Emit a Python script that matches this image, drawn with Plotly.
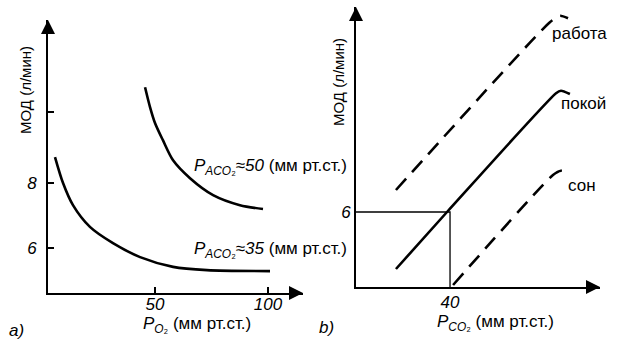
import plotly.graph_objects as go

# ---------------- data ----------------
# panel a: MOD vs P_O2
lo_x = [5.75, 9.3, 13.7, 21.2, 31.4, 43.4, 58, 73, 100.9]
lo_y = [8.8, 8.0, 7.32, 6.65, 6.15, 5.72, 5.42, 5.32, 5.29]
hi_x = [45.6, 47.8, 50, 53.5, 58, 65.5, 75.7, 87.6, 97.8]
hi_y = [10.95, 10.34, 9.85, 9.32, 8.7, 8.15, 7.63, 7.32, 7.2]
a_yticks = [6, 8]
a_yticktext = ["6", "8"]
a_yminor = [10.2]
a_xticks = [50, 100]
a_xticktext = ["50", "100"]

# panel b: MOD vs P_CO2
rest_x = [17, 39.1, 85.1, 87.2, 91]
rest_y = [1.44, 6.08, 15.5, 15.7, 15.44]
work_x = [17, 82.6, 86.8, 90.2]
work_y = [7.76, 21.2, 21.7, 21.5]
sleep_x = [41.3, 83.8, 87.2, 91]
sleep_y = [0.16, 8.96, 9.3, 9.1]
guide_x = [0, 40, 40]
guide_y = [6, 6, 0]
b_xticks = [40]
b_xticktext = ["40"]
b_yticks = [6]
b_yticktext = ["6"]

W, H = 626, 345
FONT = "Liberation Sans"
NUM = "Liberation Sans Narrow, Liberation Sans"

A_X = [2.65, 115.5]
A_Y = [4.615, 13.02]
B_X = [0, 103.8]
B_Y = [0, 22.4]


def px(x):
    return x / W


def py(y):
    return 1 - y / H


fig = go.Figure()

line = dict(color="black", width=2.6)
fig.add_trace(go.Scatter(x=lo_x, y=lo_y, mode="lines", line=dict(**line, shape="spline", smoothing=0.8),
                         xaxis="x", yaxis="y"))
fig.add_trace(go.Scatter(x=hi_x, y=hi_y, mode="lines", line=dict(**line, shape="spline", smoothing=0.8),
                         xaxis="x", yaxis="y"))
fig.add_trace(go.Scatter(x=rest_x, y=rest_y, mode="lines", line=dict(**line, shape="spline", smoothing=0.6),
                         xaxis="x2", yaxis="y2"))
fig.add_trace(go.Scatter(x=work_x, y=work_y, mode="lines",
                         line=dict(**line, shape="spline", smoothing=0.6, dash="15px,9px"),
                         xaxis="x2", yaxis="y2"))
fig.add_trace(go.Scatter(x=sleep_x, y=sleep_y, mode="lines",
                         line=dict(**line, shape="spline", smoothing=0.6, dash="15px,9px"),
                         xaxis="x2", yaxis="y2"))
fig.add_trace(go.Scatter(x=guide_x, y=guide_y, mode="lines", line=dict(color="black", width=1.3),
                         xaxis="x2", yaxis="y2"))

# arrowheads at the axis ends
arrow_m = dict(color="black", size=14, line=dict(width=0))
fig.add_trace(go.Scatter(x=[A_X[0], A_X[1]], y=[A_Y[1], A_Y[0]], mode="markers", cliponaxis=False,
                         marker=dict(**arrow_m, symbol=["arrow-up", "arrow-right"]),
                         xaxis="x", yaxis="y"))
fig.add_trace(go.Scatter(x=[B_X[0], B_X[1]], y=[B_Y[1], B_Y[0]], mode="markers", cliponaxis=False,
                         marker=dict(**arrow_m, symbol=["arrow-up", "arrow-right"]),
                         xaxis="x2", yaxis="y2"))

common = dict(showgrid=False, zeroline=False, showline=True, linewidth=2, linecolor="black",
              fixedrange=True)
numfont = dict(family=NUM, size=17, color="black")
tick_in = dict(ticks="inside", ticklen=6, tickwidth=1.5, tickcolor="black")

fig.update_layout(
    width=W, height=H, margin=dict(l=0, r=0, t=0, b=0),
    paper_bgcolor="white", plot_bgcolor="white", showlegend=False,
    xaxis=dict(**common, range=A_X, domain=[px(48), px(303)], anchor="y",
               tickvals=a_xticks, ticktext=[f"<i>{t}</i>" for t in a_xticktext],
               **tick_in, tickfont=numfont, ticklabelstandoff=-5),
    yaxis=dict(**common, range=A_Y, domain=[py(293), py(20)], anchor="x",
               tickvals=a_yticks, ticktext=[f"<i>{t}</i>" for t in a_yticktext],
               **tick_in, tickfont=numfont, ticklabelstandoff=6,
               minor=dict(tickvals=a_yminor, ticks="inside", ticklen=6, tickwidth=1.5,
                          tickcolor="black", showgrid=False)),
    xaxis2=dict(**common, range=B_X, domain=[px(356), px(600)], anchor="y2",
                tickvals=b_xticks, ticktext=[f"<i>{t}</i>" for t in b_xticktext], ticks="",
                tickfont=numfont, ticklabelstandoff=-1),
    yaxis2=dict(**common, range=B_Y, domain=[py(287), py(7)], anchor="x2",
                tickvals=b_yticks, ticktext=[f"<i>{t}</i>" for t in b_yticktext], ticks="",
                tickfont=numfont, ticklabelstandoff=0),
)

ann = []
tf = dict(family=FONT, size=17, color="black")


def txt(x, y, s, xa="center", ya="middle", angle=0, font=tf):
    return dict(xref="paper", yref="paper", x=px(x), y=py(y), text=s, showarrow=False,
                xanchor=xa, yanchor=ya, textangle=angle, font=font)


P_aco2 = "<i>P</i><sub><i>ACO</i>₂</sub>"
ann.append(txt(192, 167, P_aco2 + "≈<i>50</i> (мм рт.ст.)", xa="left"))
ann.append(txt(192, 250, P_aco2 + "≈<i>35</i> (мм рт.ст.)", xa="left"))
ann.append(txt(197, 325, "<i>P</i><sub><i>O</i>₂</sub> (мм рт.ст.)"))
ann.append(txt(495, 323, "<i>P</i><sub><i>CO</i>₂</sub> (мм рт.ст.)"))
ann.append(txt(25, 90, "МОД (л/мин)", angle=-90, font=dict(family=FONT, size=15, color="black")))
ann.append(txt(338, 82, "МОД (л/мин)", angle=-90, font=dict(family=FONT, size=15, color="black")))
ann.append(txt(16, 330, "<i>a)</i>"))
ann.append(txt(326, 327, "<i>b)</i>"))
ann.append(txt(550, 33, "работа", xa="left"))
ann.append(txt(559, 104, "покой", xa="left"))
ann.append(txt(566, 185, "сон", xa="left"))

fig.update_layout(annotations=ann)
fig.write_html("out.html")
